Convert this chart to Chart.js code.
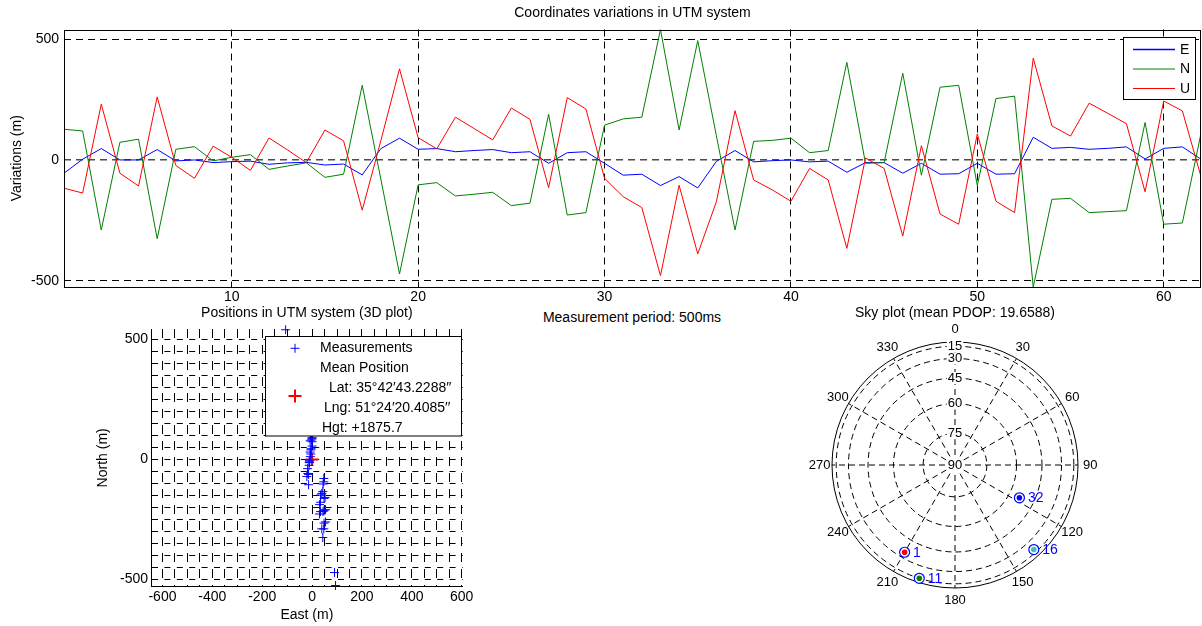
<!DOCTYPE html>
<html>
<head>
<meta charset="utf-8">
<script src="https://cdn.jsdelivr.net/npm/chart.js@4.4.0/dist/chart.umd.min.js"></script>
<style>
  body { margin: 0; background: #fff; }
  #fig { position: relative; width: 1202px; height: 626px; overflow: hidden; font-family: "Liberation Sans", Arial, sans-serif; }
  canvas { position: absolute; }
  #period { position: absolute; left: 532px; width: 200px; top: 309px; text-align: center; font-size: 14px; line-height: 16px; color: #000; }
</style>
</head>
<body>
<div id="fig">
  <canvas id="enu" width="1202" height="306" style="left:0;top:0"></canvas>
  <canvas id="pos" width="440" height="326" style="left:90px;top:300px"></canvas>
  <canvas id="sky" width="422" height="326" style="left:780px;top:300px"></canvas>
  <div id="period">Measurement period: 500ms</div>
</div>
<script>
// epochs (x axis of the top plot)
const epochs = [1, 2, 3, 4, 5, 6, 7, 8, 9, 10, 11, 12, 13, 14, 15, 16, 17, 18, 19, 20,
  21, 22, 23, 24, 25, 26, 27, 28, 29, 30, 31, 32, 33, 34, 35, 36, 37, 38, 39, 40,
  41, 42, 43, 44, 45, 46, 47, 48, 49, 50, 51, 52, 53, 54, 55, 56, 57, 58, 59, 60, 61, 62];

// coordinate variations (m)
const eastVar = [-55, 3, 47, 0, 0, 43, -4, 0, -11, -7,
  -5, -18, -12, -10, -21, -17, -62, 47, 90, 44,
  47, 34, 39, 43, 30, 34, -14, 30, 34, -14,
  -63, -59, -106, -69, -116, -6, 39, -8, -3, 0,
  -8, -5, -51, -11, -11, -55, -14, -59, -57, -14,
  -59, -57, 94, 48, 52, 44, 48, 54, 4, 48,
  54, 3];
const northVar = [127, 120, -290, 73, 86, -326, 44, 55, -4, 11,
  22, -39, -25, -12, -72, -59, 309, -80, -472, -103,
  -94, -149, -142, -134, -189, -179, 189, -228, -218, 144,
  170, 177, 540, 124, 494, 100, -290, 77, 81, 90,
  30, 39, 404, -14, -11, 359, -63, 301, 309, -106,
  254, 264, -526, -163, -159, -218, -214, -210, 155, -266,
  -261, 110];
const upVar = [-117, -137, 231, -55, -108, 261, -23, -76, 57, 11,
  -43, 91, 41, -11, 124, 79, -208, 80, 377, 92,
  46, 177, 130, 83, 215, 168, -115, 258, 211, -76,
  -152, -197, -479, -105, -389, -173, 204, -83, -124, -171,
  -35, -83, -366, 8, -35, -315, 59, -224, -266, 108,
  -171, -218, 421, 141, 99, 235, 193, 150, -132, 244,
  203, -69];

const epochTicks = [10, 20, 30, 40, 50, 60];
const varTicks = [-500, 0, 500];

// positions plot
const eastTicks = [-600, -400, -200, 0, 200, 400, 600];
const northTicks = [-500, 0, 500];

// sky plot
const skyPrn = [32, 16, 1, 11];
const skyAz = [117, 137, 210, 197.5];
const skyEl = [54, 20, 35, 15];
const skyFill = ['#0000ff', '#33c6c6', '#ff0000', '#008000'];
const skyRings = [0, 15, 30, 45, 60, 75];
const skyElLabels = [15, 30, 45, 60, 75, 90];
const skyAzLabels = [0, 30, 60, 90, 120, 150, 180, 210, 240, 270, 300, 330];

const FONT = '"Liberation Sans", Arial, sans-serif';
Chart.defaults.font.family = FONT;
Chart.defaults.font.size = 14;
Chart.defaults.color = '#000';
Chart.defaults.animation = false;
Chart.defaults.events = [];
Chart.defaults.plugins.legend.display = false;
Chart.defaults.plugins.tooltip.enabled = false;

const mean = a => a.reduce((s, v) => s + v, 0) / a.length;
const rad = Math.PI / 180;

// box round the axes
const boxPlugin = {
  id: 'box',
  afterDraw(chart) {
    const {ctx, chartArea: a} = chart;
    ctx.save();
    ctx.strokeStyle = '#000';
    ctx.lineWidth = 1;
    ctx.strokeRect(Math.round(a.left) + 0.5, Math.round(a.top) + 0.5,
      Math.round(a.right - a.left) - 1, Math.round(a.bottom - a.top) - 1);
    ctx.restore();
  }
};

const enuLegend = {
  id: 'enuLegend',
  afterDraw(chart) {
    const ctx = chart.ctx;
    ctx.save();
    ctx.fillStyle = '#fff';
    ctx.fillRect(1123.5, 37.5, 72, 62);
    ctx.strokeStyle = '#000';
    ctx.lineWidth = 1;
    ctx.strokeRect(1123.5, 37.5, 72, 62);
    ctx.font = '14px ' + FONT;
    ctx.textBaseline = 'middle';
    chart.data.datasets.forEach((ds, i) => {
      const y = 49.5 + i * 19.5;
      ctx.strokeStyle = ds.borderColor;
      ctx.lineWidth = i === 0 ? 1.5 : 1;
      ctx.beginPath();
      ctx.moveTo(1133, y);
      ctx.lineTo(1175, y);
      ctx.stroke();
      ctx.fillStyle = '#000';
      ctx.fillText(ds.label, 1180, y + 0.5);
    });
    ctx.restore();
  }
};

const line = (label, vals, color, order) => ({
  label: label,
  data: epochs.map((x, i) => ({x: x, y: vals[i]})),
  borderColor: color,
  borderWidth: 1,
  pointRadius: 0,
  tension: 0,
  fill: false,
  order: order
});

new Chart(document.getElementById('enu'), {
  type: 'line',
  data: {
    datasets: [
      line('E', eastVar, '#0000ff', 2),
      line('N', northVar, '#008000', 1),
      line('U', upVar, '#ff0000', 0)
    ]
  },
  options: {
    responsive: false,
    devicePixelRatio: 1,
    layout: {padding: {left: 0, right: 1, top: 0, bottom: 0}},
    plugins: {
      title: {
        display: true, text: 'Coordinates variations in UTM system', fullSize: false,
        font: {size: 14, weight: 'normal'}, padding: {top: 4.6, bottom: 8.1}
      }
    },
    scales: {
      x: {
        type: 'linear', min: 1, max: 62,
        afterBuildTicks: s => { s.ticks = epochTicks.map(v => ({value: v})); },
        afterFit: s => { s.height = 19; },
        ticks: {padding: 2, maxRotation: 0, autoSkip: false},
        grid: {drawTicks: false, color: '#000', lineWidth: 1},
        border: {display: false, dash: [7, 5]}
      },
      y: {
        min: -526, max: 540,
        afterBuildTicks: s => { s.ticks = varTicks.map(v => ({value: v})); },
        afterFit: s => { s.width = 64; },
        ticks: {padding: 5},
        grid: {
          drawTicks: false,
          color: c => c.tick && c.tick.value === 0 ? '#4d4d4d' : '#000',
          lineWidth: c => c.tick && c.tick.value === 0 ? 1.6 : 1
        },
        border: {display: false, dash: [7, 5]},
        title: {display: true, text: 'Variations (m)', padding: {top: 8.6, bottom: 0}}
      }
    }
  },
  plugins: [boxPlugin, enuLegend]
});

// positions plot
const gridStep = 50;
const stepsBetween = (lo, hi) => {
  const out = [];
  for (let v = Math.ceil(lo / gridStep) * gridStep; v <= hi; v += gridStep) out.push(v);
  return out;
};

const posLegend = {
  id: 'posLegend',
  afterDraw(chart) {
    const ctx = chart.ctx;
    const ds = chart.data.datasets;
    ctx.save();
    ctx.translate(-90, -300);
    ctx.fillStyle = '#fff';
    ctx.fillRect(265.5, 336.5, 196, 99.5);
    ctx.strokeStyle = '#000';
    ctx.lineWidth = 1;
    ctx.strokeRect(265.5, 336.5, 196, 99.5);
    [[ds[0], 348.3], [ds[1], 396]].forEach(([d, y]) => {
      ctx.strokeStyle = d.borderColor;
      ctx.lineWidth = d.borderWidth;
      Chart.helpers.drawPoint(ctx, {pointStyle: 'cross', radius: d.pointRadius, borderWidth: d.borderWidth, rotation: 0}, 295, y);
    });
    ctx.fillStyle = '#000';
    ctx.font = '14px ' + FONT;
    ctx.textBaseline = 'middle';
    ctx.fillText(ds[0].label, 320, 348.5);
    ctx.fillText(ds[1].label, 320, 368.5);
    ctx.fillText('Lat: 35°42′43.2288′′', 329, 388.5);
    ctx.fillText('Lng: 51°24′20.4085′′', 324, 408.5);
    ctx.fillText('Hgt: +1875.7', 322, 428.5);
    ctx.restore();
  }
};

new Chart(document.getElementById('pos'), {
  type: 'scatter',
  data: {
    datasets: [
      {
        label: 'Measurements',
        data: eastVar.map((e, i) => ({x: e, y: northVar[i]})),
        pointStyle: 'cross', pointRadius: 4.5, borderColor: '#0000ff', borderWidth: 1, clip: false
      },
      {
        label: 'Mean Position',
        data: [{x: mean(eastVar), y: mean(northVar)}],
        pointStyle: 'cross', pointRadius: 6.5, borderColor: '#ff0000', borderWidth: 2, clip: false
      }
    ]
  },
  options: {
    responsive: false,
    devicePixelRatio: 1,
    layout: {padding: {left: 0, right: 67.3, top: 0, bottom: 0}},
    plugins: {
      title: {
        display: true, text: 'Positions in UTM system (3D plot)', fullSize: false,
        font: {size: 14, weight: 'normal'}, padding: {top: 5.1, bottom: 7.1}
      }
    },
    scales: {
      x: {
        min: -646, max: 604,
        afterBuildTicks: s => { s.ticks = stepsBetween(s.min, s.max).map(v => ({value: v})); },
        afterFit: s => { s.height = 39.3; },
        ticks: {padding: 2.4, autoSkip: false, maxRotation: 0, callback: v => eastTicks.includes(v) ? String(v) : ''},
        grid: {drawTicks: false, color: '#000'},
        border: {display: true, color: '#000', dash: [9, 7]},
        title: {display: true, text: 'East (m)', padding: {top: 0, bottom: 2.6}}
      },
      y: {
        min: -531, max: 543,
        afterBuildTicks: s => { s.ticks = stepsBetween(s.min, s.max).map(v => ({value: v})); },
        afterFit: s => { s.width = 61; },
        ticks: {padding: 3, autoSkip: false, callback: v => northTicks.includes(v) ? String(v) : ''},
        grid: {drawTicks: false, color: '#000'},
        border: {display: true, color: '#000', dash: [6, 6.4]},
        title: {display: true, text: 'North (m)', padding: {top: 4.6, bottom: 0}}
      }
    }
  },
  plugins: [posLegend]
});

// sky plot
const skyPts = skyAz.map((az, i) => {
  const r = 90 * Math.cos(skyEl[i] * rad);
  return {x: r * Math.sin(az * rad), y: r * Math.cos(az * rad)};
});

const skyGrid = {
  id: 'skyGrid',
  beforeDatasetsDraw(chart) {
    const {ctx, scales: {x, y}} = chart;
    const cx = x.getPixelForValue(0), cy = y.getPixelForValue(0);
    const u = (x.getPixelForValue(90) - cx) / 90;
    ctx.save();
    ctx.strokeStyle = '#000';
    ctx.lineWidth = 1;
    ctx.setLineDash([6, 4]);
    skyAzLabels.forEach(a => {
      ctx.beginPath();
      ctx.moveTo(cx, cy);
      ctx.lineTo(cx + 90 * u * Math.sin(a * rad), cy - 90 * u * Math.cos(a * rad));
      ctx.stroke();
    });
    skyRings.forEach(el => {
      ctx.setLineDash(el === 0 ? [] : [6, 4]);
      ctx.beginPath();
      ctx.arc(cx, cy, 90 * Math.cos(el * rad) * u, 0, 2 * Math.PI);
      ctx.stroke();
    });
    ctx.setLineDash([]);
    ctx.font = '13px ' + FONT;
    ctx.textAlign = 'center';
    ctx.textBaseline = 'middle';
    skyElLabels.forEach(el => {
      const ty = cy - 90 * Math.cos(el * rad) * u;
      const w = ctx.measureText(String(el)).width;
      ctx.fillStyle = '#fff';
      ctx.fillRect(cx - w / 2 - 1, ty - 6, w + 2, 12);
      ctx.fillStyle = '#000';
      ctx.fillText(String(el), cx, ty);
    });
    skyAzLabels.forEach(a => ctx.fillText(String(a), cx + 99 * u * Math.sin(a * rad), cy - 99 * u * Math.cos(a * rad)));
    ctx.restore();
  },
  afterDatasetsDraw(chart) {
    const {ctx} = chart;
    const meta = chart.getDatasetMeta(0);
    ctx.save();
    ctx.fillStyle = '#0000ff';
    ctx.font = '14px ' + FONT;
    ctx.textBaseline = 'middle';
    meta.data.forEach((pt, i) => ctx.fillText(String(skyPrn[i]), pt.x + 8.5, pt.y + 0.5));
    ctx.restore();
  }
};

new Chart(document.getElementById('sky'), {
  type: 'scatter',
  data: {
    datasets: [
      {data: skyPts, pointStyle: 'circle', pointRadius: 2.8, backgroundColor: skyFill, borderWidth: 0, clip: false},
      {data: skyPts, pointStyle: 'circle', pointRadius: 5, backgroundColor: '#fff', borderColor: '#0000ff', borderWidth: 1.2, clip: false}
    ]
  },
  options: {
    responsive: false,
    devicePixelRatio: 1,
    layout: {padding: {left: 52, right: 124, top: 0, bottom: 38}},
    plugins: {
      title: {
        display: true, text: 'Sky plot (mean PDOP: 19.6588)', fullSize: false,
        font: {size: 14, weight: 'normal'}, padding: {top: 5.1, bottom: 20.1}
      }
    },
    scales: {
      x: {display: false, min: -90, max: 90},
      y: {display: false, min: -90, max: 90}
    }
  },
  plugins: [skyGrid]
});
</script>
</body>
</html>
